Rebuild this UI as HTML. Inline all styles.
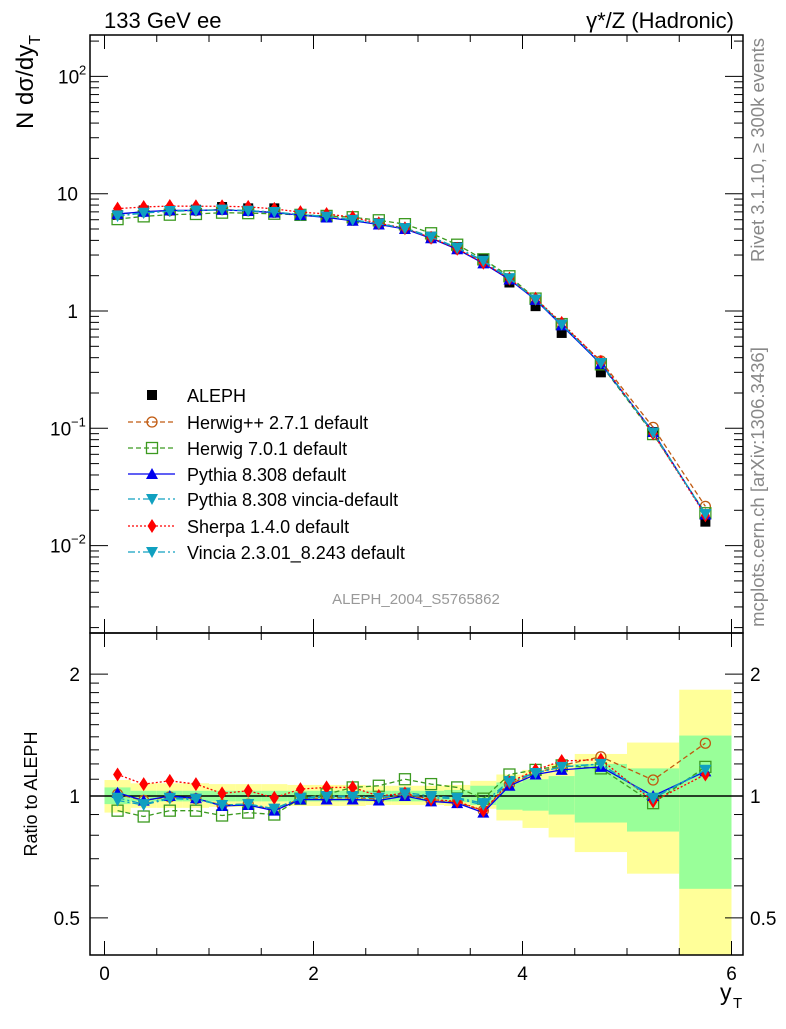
<!DOCTYPE html>
<html><head><meta charset="utf-8"><style>
body{margin:0;background:#fff;}
svg text{font-family:"Liberation Sans",sans-serif;}
</style></head><body>
<svg id="chart" width="786" height="1024" xmlns="http://www.w3.org/2000/svg"></svg>
<script>
const xCenters=[0.125,0.375,0.625,0.875,1.125,1.375,1.625,1.875,2.125,2.375,2.625,2.875,3.125,3.375,3.625,3.875,4.125,4.375,4.75,5.25,5.75];
const xLo=[0,0.25,0.5,0.75,1,1.25,1.5,1.75,2,2.25,2.5,2.75,3,3.25,3.5,3.75,4,4.25,4.5,5,5.5];
const xHi=[0.25,0.5,0.75,1,1.25,1.5,1.75,2,2.25,2.5,2.75,3,3.25,3.5,3.75,4,4.25,4.5,5,5.5,6];
const alephVals=[6.6,7.2,7.2,7.3,7.7,7.5,7.5,6.7,6.4,6.0,5.6,5.0,4.3,3.5,2.8,1.75,1.1,0.65,0.30,0.093,0.016];
const bandTotHi=[1.095,1.075,1.075,1.075,1.07,1.07,1.07,1.065,1.065,1.065,1.06,1.06,1.06,1.065,1.09,1.13,1.16,1.2,1.27,1.355,1.83];
const bandTotLo=[0.91,0.935,0.935,0.935,0.94,0.94,0.94,0.945,0.945,0.945,0.95,0.95,0.95,0.945,0.93,0.87,0.834,0.79,0.727,0.643,0.3];
const bandStatHi=[1.05,1.03,1.03,1.03,1.03,1.03,1.03,1.03,1.03,1.03,1.03,1.03,1.03,1.035,1.06,1.08,1.1,1.12,1.2,1.17,1.41];
const bandStatLo=[0.955,0.97,0.97,0.97,0.97,0.97,0.97,0.97,0.97,0.97,0.97,0.97,0.97,0.965,0.95,0.925,0.92,0.9,0.86,0.817,0.59];
const herwigppRatio=[1.01,0.975,0.995,0.985,0.95,0.955,0.925,0.985,0.99,0.99,0.985,1.01,0.975,0.965,0.92,1.07,1.14,1.19,1.25,1.095,1.35];
const herwig7Ratio=[0.92,0.89,0.92,0.92,0.895,0.91,0.9,0.985,1.01,1.05,1.06,1.1,1.07,1.05,0.985,1.13,1.16,1.19,1.17,0.96,1.18];
const pythiaRatio=[1.019,0.974,1.0,0.987,0.945,0.95,0.92,0.98,0.98,0.98,0.975,1.0,0.97,0.96,0.91,1.06,1.13,1.16,1.18,1.0,1.15];
const pyVinciaRatio=[0.975,0.95,0.985,0.98,0.95,0.955,0.93,0.99,1.0,1.0,0.99,1.02,1.0,0.99,0.96,1.09,1.14,1.18,1.2,0.99,1.16];
const sherpaRatio=[1.13,1.07,1.09,1.07,1.015,1.03,0.99,1.04,1.05,1.05,1.0,1.015,0.98,0.97,0.92,1.08,1.16,1.22,1.23,0.97,1.13];
const vincia2Ratio=[0.99,0.955,0.99,0.985,0.95,0.955,0.93,0.985,0.995,0.995,0.99,1.01,0.99,0.985,0.95,1.08,1.14,1.18,1.2,0.985,1.16];
const mainTicks=[["10","2",100],["10","",10],["1","",1],["10","−1",0.1],["10","−2",0.01]];
const ratioTicks=[2,1,0.5];
const xTicks=[0,2,4,6];

const NS="http://www.w3.org/2000/svg";
const svg=document.getElementById('chart');
const L=90,R=743,T=35,MB=633,RB=955;
const X=v=>104.5+v*104.5;
const Y=v=>311-117.3*Math.log10(v);
const YR=v=>796-405*Math.log10(v);
function el(tag,attrs,parent){const e=document.createElementNS(NS,tag);for(const k in attrs)e.setAttribute(k,attrs[k]);(parent||svg).appendChild(e);return e;}
function txt(x,y,s,attrs,parent){const t=el('text',Object.assign({x:x,y:y,'font-size':19},attrs||{}),parent);t.textContent=s;return t;}

// bands
const bands=el('g',{});


for(let i=0;i<xCenters.length;i++){
  const lo=Math.max(bandTotLo[i],0.405),hi=Math.min(bandTotHi[i],2.5);
  const r1=el('rect',{x:X(xLo[i]),y:YR(hi),width:X(xHi[i])-X(xLo[i]),height:YR(lo)-YR(hi),fill:'#ffff99'},bands);
  
  
  const r2=el('rect',{x:X(xLo[i]),y:YR(bandStatHi[i]),width:X(xHi[i])-X(xLo[i]),height:YR(bandStatLo[i])-YR(bandStatHi[i]),fill:'#99ff99'},bands);
  
  
}
el('line',{x1:L,x2:R,y1:YR(1),y2:YR(1),stroke:'#000','stroke-width':1.5});

// frames
const f1=el('rect',{x:L,y:T,width:R-L,height:MB-T,fill:'none',stroke:'#000','stroke-width':1.5});

const f2=el('rect',{x:L,y:MB,width:R-L,height:RB-MB,fill:'none',stroke:'#000','stroke-width':1.5});


// x ticks
for(let v=0;v<=6.01;v+=0.5){
  const major=Math.abs(v-Math.round(v/2)*2)<1e-6;
  const len=major?14:7;
  el('line',{x1:X(v),x2:X(v),y1:RB,y2:RB-len,stroke:'#000'});
  el('line',{x1:X(v),x2:X(v),y1:MB,y2:MB-len,stroke:'#000'});
  el('line',{x1:X(v),x2:X(v),y1:T,y2:T+len,stroke:'#000'});
  el('line',{x1:X(v),x2:X(v),y1:MB,y2:MB+len,stroke:'#000'});
}
xTicks.forEach(v=>{const t=txt(X(v),980,String(v),{'text-anchor':'middle'});});
const xt=txt(720,1000,'y',{'font-size':23});
txt(733,1008,'T',{'font-size':15});

// main y ticks (log)
for(let d=-3;d<=2;d++){for(let m=1;m<10;m++){const v=m*Math.pow(10,d);const y=Y(v);if(y<T||y>MB)continue;const len=m===1?18:9;
  el('line',{x1:L,x2:L+len,y1:y,y2:y,stroke:'#000'});el('line',{x1:R,x2:R-len,y1:y,y2:y,stroke:'#000'});}}
mainTicks.forEach(t=>{const y=Y(t[2])+7;const g=el('g',{});
  
  if(t[1]){txt(t[1].length>1?50:58,y,t[0],{},g);txt(t[1].length>1?71:79,y-9,t[1],{'font-size':13},g);}
  else txt(78,y,t[0],{'text-anchor':'end'},g);});

// ratio y ticks
[0.5,0.6,0.7,0.8,0.9,1,1.5,2].concat([1.1,1.2,1.3,1.4,1.6,1.7,1.8,1.9]).forEach(v=>{const y=YR(v);const len=(v===0.5||v===1||v===2)?18:9;
  el('line',{x1:L,x2:L+len,y1:y,y2:y,stroke:'#000'});el('line',{x1:R,x2:R-len,y1:y,y2:y,stroke:'#000'});});
ratioTicks.forEach(v=>{const a=txt(80,YR(v)+7,String(v),{'text-anchor':'end'});
  const b=txt(750,YR(v)+7,String(v));});

// titles
let t;
t=txt(104,28,'133 GeV ee',{'font-size':22});
t=txt(734,28,'γ*/Z (Hadronic)',{'text-anchor':'end','font-size':22});
t=el('text',{transform:'translate(33,35) rotate(-90)','font-size':24,'text-anchor':'end'});t.innerHTML='N dσ/dy<tspan font-size="16" dy="7">T</tspan>';
t=txt(0,0,'Ratio to ALEPH',{transform:'translate(37,794) rotate(-90)','font-size':18,'text-anchor':'middle'});
t=txt(0,0,'Rivet 3.1.10, ≥ 300k events',{transform:'translate(764,150) rotate(-90)','font-size':18.5,fill:'#888','text-anchor':'middle'});
t=txt(0,0,'mcplots.cern.ch [arXiv:1306.3436]',{transform:'translate(764,487) rotate(-90)','font-size':18.5,fill:'#888','text-anchor':'middle'});
t=txt(416,604,'ALEPH_2004_S5765862',{'font-size':15,fill:'#999','text-anchor':'middle'});

// markers
function marker(type,x,y,color,parent){
  if(type==='circle')return el('circle',{cx:x,cy:y,r:5,fill:'none',stroke:color,'stroke-width':1.3},parent);
  if(type==='square')return el('rect',{x:x-5.5,y:y-5.5,width:11,height:11,fill:'none',stroke:color,'stroke-width':1.3},parent);
  if(type==='fsquare')return el('rect',{x:x-5,y:y-5,width:10,height:10,fill:color},parent);
  if(type==='up')return el('polygon',{points:`${x-6},${y+5} ${x+6},${y+5} ${x},${y-6}`,fill:color},parent);
  if(type==='down')return el('polygon',{points:`${x-6},${y-5} ${x+6},${y-5} ${x},${y+6}`,fill:color},parent);
  if(type==='diamond')return el('polygon',{points:`${x},${y-7} ${x+4.5},${y} ${x},${y+7} ${x-4.5},${y}`,fill:color},parent);
}
const series=[
 {name:'herwigpp-2-7-1',label:'Herwig++ 2.7.1 default',r:herwigppRatio,color:'#c05a10',dash:'5,3',m:'circle'},
 {name:'herwig-7-0-1',label:'Herwig 7.0.1 default',r:herwig7Ratio,color:'#3c9a20',dash:'5,3',m:'square'},
 {name:'pythia-8-308',label:'Pythia 8.308 default',r:pythiaRatio,color:'#0000ee',dash:'',m:'up'},
 {name:'pythia-8-308-vincia',label:'Pythia 8.308 vincia-default',r:pyVinciaRatio,color:'#10a0c0',dash:'7,3,2,3',m:'down'},
 {name:'sherpa-1-4-0',label:'Sherpa 1.4.0 default',r:sherpaRatio,color:'#ff0000',dash:'2,2',m:'diamond'},
 {name:'vincia-2-3-01',label:'Vincia 2.3.01_8.243 default',r:vincia2Ratio,color:'#10a0c0',dash:'7,3,2,3',m:'down'}
];
// data
const dg=el('g',{});
alephVals.forEach((v,i)=>{const m=marker('fsquare',X(xCenters[i]),Y(v),'#000',dg);});
series.forEach(s=>{
  const g=el('g',{});
  const pm=xCenters.map((x,i)=>X(x)+','+Y(alephVals[i]*s.r[i])).join(' ');
  const pr=xCenters.map((x,i)=>X(x)+','+YR(s.r[i])).join(' ');
  el('polyline',{points:pm,fill:'none',stroke:s.color,'stroke-width':1.3,'stroke-dasharray':s.dash},g);
  el('polyline',{points:pr,fill:'none',stroke:s.color,'stroke-width':1.3,'stroke-dasharray':s.dash},g);
  xCenters.forEach((x,i)=>{
    const a=marker(s.m,X(x),Y(alephVals[i]*s.r[i]),s.color,g);
    const b=marker(s.m,X(x),YR(s.r[i]),s.color,g);
  });
});
// legend
const lg=el('g',{});
const ly=[395,422,448,474,499,526,552];
let e=el('g',{},lg);
marker('fsquare',152,ly[0],'#000',e);txt(187,ly[0]+7,'ALEPH',{'font-size':18},e);
series.forEach((s,i)=>{const g=el('g',{},lg);
  el('line',{x1:128,x2:175,y1:ly[i+1],y2:ly[i+1],stroke:s.color,'stroke-width':1.3,'stroke-dasharray':s.dash},g);
  marker(s.m,152,ly[i+1],s.color,g);txt(187,ly[i+1]+7,s.label,{'font-size':18},g);});
</script>
</body></html>
